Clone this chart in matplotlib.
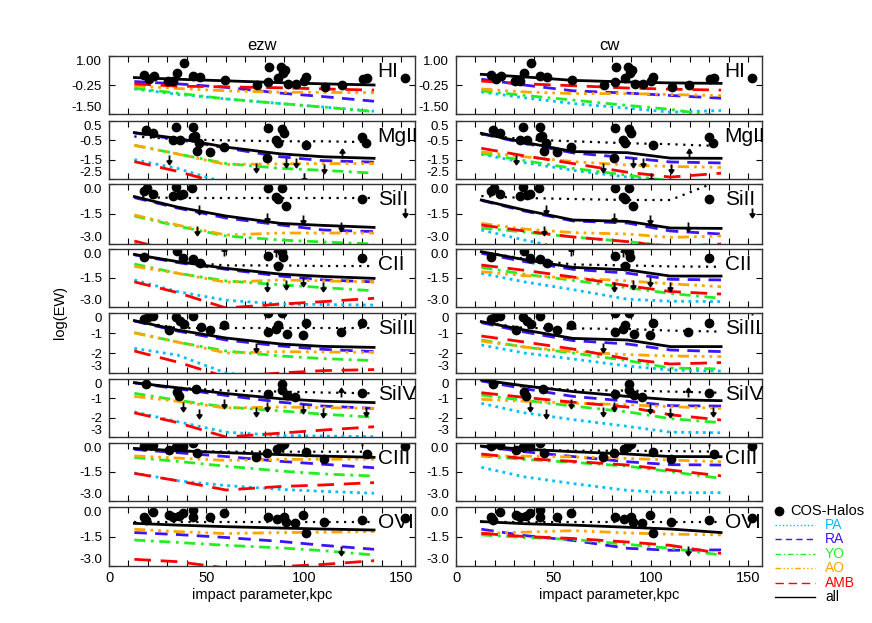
import matplotlib
matplotlib.use("Agg")
import matplotlib.pyplot as plt
from matplotlib.lines import Line2D
from matplotlib.path import Path
from matplotlib.ticker import FixedLocator, MultipleLocator, FormatStrFormatter

plt.rcParams['font.family'] = ['Liberation Sans', 'DejaVu Sans']

# impact parameters where the models are sampled (kpc)
xm = [13, 35, 60, 88, 110, 136]

ions = ['HI', 'MgII', 'SiII', 'CII', 'SiIII', 'SiIV', 'CIII', 'OVI']
models = ['PA', 'RA', 'YO', 'AO', 'AMB', 'all']

# rows: PA, RA, YO, AO, AMB, all, median of data (dotted)
ezw_HI = [[-0.42, -0.65, -0.85, -1.05, -1.2, -1.38],
          [-0.1, -0.2, -0.35, -0.6, -0.75, -0.95],
          [-0.39, -0.6, -0.85, -1.05, -1.2, -1.4],
          [-0.29, -0.4, -0.5, -0.56, -0.57, -0.58],
          [-0.2, -0.3, -0.33, -0.37, -0.42, -0.47],
          [0.07, 0.0, -0.07, -0.15, -0.2, -0.25],
          None]
cw_HI = [[-0.55, -0.8, -1.05, -1.25, -1.42, -1.35],
         [0.0, -0.25, -0.5, -0.6, -0.7, -0.82],
         [-0.5, -0.7, -0.9, -1.13, -1.3, -1.6],
         [-0.42, -0.55, -0.62, -0.62, -0.66, -0.71],
         [-0.08, -0.2, -0.28, -0.38, -0.43, -0.47],
         [0.21, 0.1, -0.05, -0.12, -0.16, -0.18],
         None]
ezw_MgII = [[-1.5, -1.95, -2.7, -3.2, -3.4, -3.6],
            [-0.12, -0.45, -0.9, -1.35, -1.55, -1.63],
            [-0.76, -1.2, -1.7, -1.95, -2.05, -2.2],
            [-0.75, -1.2, -1.75, -1.72, -1.7, -1.7],
            [-1.6, -2.1, -2.8, -3.2, -3.4, -3.6],
            [-0.1, -0.4, -0.85, -1.2, -1.35, -1.43],
            [-0.3, -0.45, -0.5, -0.55, -0.55, -0.6]]
cw_MgII = [[-1.22, -1.65, -2.05, -2.4, -2.65, -2.9],
           [-0.16, -0.65, -1.15, -1.4, -1.62, -1.67],
           [-1.17, -1.55, -1.95, -2.3, -2.6, -2.8],
           [-1.1, -1.35, -1.6, -1.78, -1.85, -1.9],
           [-0.91, -1.3, -1.7, -2.15, -2.4, -2.2],
           [-0.14, -0.6, -1.08, -1.14, -1.42, -1.43],
           [-0.2, -0.45, -0.55, -0.65, -0.7, -0.8]]
ezw_SiII = [[-3.0, -3.5, -4.0, -4.0, -4.0, -4.0],
            [-0.68, -1.2, -1.7, -2.05, -2.3, -2.38],
            [-1.6, -2.1, -2.6, -2.8, -2.9, -3.0],
            [-1.55, -2.05, -2.55, -2.45, -2.45, -2.45],
            [-2.85, -3.4, -4.0, -4.0, -4.0, -4.0],
            [-0.63, -1.15, -1.6, -1.97, -2.07, -2.17],
            [-0.65, -0.7, -0.7, -0.7, -0.7, -0.7]]
cw_SiII = [[-2.3, -2.8, -3.3, -3.8, -4.0, -4.0],
           [-0.82, -1.35, -1.85, -1.95, -2.35, -2.5],
           [-2.2, -2.4, -2.65, -2.88, -3.1, -3.2],
           [-1.97, -2.25, -2.43, -2.5, -2.67, -2.6],
           [-2.05, -2.35, -2.65, -2.88, -3.15, -3.0],
           [-0.8, -1.3, -1.8, -1.87, -2.2, -2.22],
           [-0.6, -0.7, -0.75, -0.8, -0.8, 0.2]]
ezw_CII = [[-1.6, -2.2, -2.65, -2.85, -2.87, -2.9],
           [-0.3, -0.7, -1.05, -1.4, -1.6, -1.7],
           [-0.78, -1.25, -1.65, -1.85, -2.0, -2.16],
           [-0.9, -1.25, -1.72, -1.6, -1.65, -1.7],
           [-1.7, -2.25, -3.05, -2.85, -2.72, -2.55],
           [-0.28, -0.65, -1.0, -1.3, -1.42, -1.52],
           [-0.3, -0.65, -0.85, -0.85, -0.88, -0.88]]
cw_CII = [[-1.26, -1.7, -2.1, -2.6, -2.7, -2.72],
          [-0.22, -0.65, -1.05, -1.25, -1.57, -1.6],
          [-0.95, -1.3, -1.62, -2.0, -2.3, -2.55],
          [-1.17, -1.38, -1.5, -1.65, -1.8, -1.95],
          [-0.83, -1.1, -1.45, -1.9, -2.2, -2.33],
          [-0.14, -0.55, -0.95, -1.08, -1.4, -1.4],
          [-0.15, -0.5, -0.8, -0.85, -0.9, -0.92]]
ezw_SiIII = [[-1.77, -2.1, -3.0, -3.3, -3.5, -3.6],
             [-0.4, -0.9, -1.35, -1.65, -1.82, -1.93],
             [-0.98, -1.45, -1.9, -2.15, -2.28, -2.38],
             [-1.0, -1.45, -2.0, -1.93, -1.95, -1.97],
             [-1.9, -2.45, -3.2, -3.0, -2.88, -2.83],
             [-0.38, -0.85, -1.25, -1.55, -1.67, -1.72],
             [-0.4, -0.75, -0.75, -0.75, -0.75, -0.75]]
cw_SiIII = [[-1.6, -2.0, -2.3, -2.65, -2.85, -2.9],
            [-0.48, -0.95, -1.38, -1.55, -1.85, -1.93],
            [-1.35, -1.7, -2.0, -2.38, -2.75, -2.8],
            [-1.4, -1.7, -1.93, -2.08, -2.15, -2.18],
            [-1.15, -1.45, -1.8, -2.3, -2.55, -2.48],
            [-0.43, -0.85, -1.27, -1.35, -1.68, -1.68],
            [-0.45, -0.75, -0.77, -0.8, -0.88, -0.93]]
ezw_SiIV = [[-1.7, -2.2, -2.75, -2.92, -2.95, -2.98],
            [-0.2, -0.5, -0.85, -1.2, -1.4, -1.52],
            [-0.74, -1.1, -1.45, -1.65, -1.82, -1.98],
            [-0.9, -1.15, -1.5, -1.45, -1.48, -1.52],
            [-1.75, -2.25, -3.0, -2.8, -2.64, -2.47],
            [-0.19, -0.45, -0.75, -1.02, -1.15, -1.22],
            [-0.2, -0.45, -0.6, -0.65, -0.7, -0.74]]
cw_SiIV = [[-1.26, -1.75, -2.1, -2.45, -2.75, -2.78],
           [-0.1, -0.5, -0.9, -1.15, -1.38, -1.4],
           [-0.83, -1.1, -1.4, -1.7, -2.05, -2.26],
           [-1.05, -1.15, -1.25, -1.33, -1.43, -1.52],
           [-0.71, -0.95, -1.2, -1.45, -1.85, -2.12],
           [-0.05, -0.35, -0.65, -0.9, -1.07, -1.12],
           [-0.1, -0.4, -0.57, -0.6, -0.65, -0.71]]
ezw_CIII = [[-1.55, -1.95, -2.2, -2.4, -2.5, -2.6],
            [-0.33, -0.5, -0.7, -0.95, -1.1, -1.28],
            [-0.75, -0.95, -1.2, -1.45, -1.6, -1.71],
            [-0.67, -0.78, -0.9, -0.85, -0.84, -0.84],
            [-1.57, -1.95, -2.43, -2.25, -2.17, -2.05],
            [-0.28, -0.4, -0.5, -0.6, -0.68, -0.74],
            [-0.3, -0.4, -0.45, -0.45, -0.45, -0.45]]
cw_CIII = [[-1.26, -1.75, -2.1, -2.45, -2.57, -2.57],
           [-0.18, -0.45, -0.7, -0.97, -1.12, -1.14],
           [-0.67, -0.85, -1.0, -1.2, -1.48, -1.83],
           [-0.67, -0.68, -0.72, -0.8, -0.88, -0.97],
           [-0.57, -0.8, -0.95, -1.14, -1.4, -1.7],
           [-0.16, -0.32, -0.45, -0.57, -0.7, -0.71],
           [-0.16, -0.32, -0.4, -0.4, -0.42, -0.45]]
ezw_OVI = [[-3.4, -3.5, -3.6, -3.7, -3.8, -3.9],
           [-1.3, -1.4, -1.55, -1.75, -1.95, -2.15],
           [-1.68, -1.8, -1.95, -2.08, -2.22, -2.44],
           [-1.13, -1.25, -1.35, -1.3, -1.28, -1.25],
           [-2.66, -2.78, -3.1, -3.03, -2.92, -2.73],
           [-0.83, -0.92, -1.0, -1.07, -1.12, -1.17],
           [-0.75, -0.75, -0.75, -0.75, -0.75, -0.75]]
cw_OVI = [[-3.4, -3.5, -3.6, -3.7, -3.8, -3.9],
          [-1.13, -1.45, -1.7, -2.1, -2.2, -2.18],
          [-1.42, -1.55, -1.65, -1.9, -2.1, -2.44],
          [-1.34, -1.28, -1.2, -1.32, -1.38, -1.42],
          [-1.34, -1.5, -1.6, -1.78, -1.95, -2.36],
          [-0.74, -0.85, -0.92, -1.03, -1.12, -1.3],
          [-0.75, -0.75, -0.75, -0.75, -0.75, -0.75]]

# COS-Halos detections (x kpc, log EW) and limits
obs_HI = [(18, 0.2), (20.5, 0.03), (23, 0.14), (30.5, -0.06), (33, -0.06), (35, 0.25),
          (38.5, 0.68), (43, 0.13), (46.5, 0.09), (59.5, -0.04), (76, -0.24), (81.5, -0.12),
          (82, 0.51), (86.5, 0.07), (88.5, 0.54), (89.5, 0.28), (90.5, 0.4), (92, -0.2),
          (96, -0.2), (100, -0.08), (101.2, 0.11), (111, -0.33), (119.5, -0.27),
          (130.5, 0.0), (132.5, 0.05), (152, 0.05)]
obs_MgII = [(19, 0.03), (22.5, -0.1), (34.5, 0.17), (33, -0.48), (36.6, -0.48), (43, 0.17),
            (43, -0.34), (44, -0.3), (45, -1.05), (46, -0.65), (51.7, -1.08), (59, -0.86),
            (81.6, 0.12), (81.3, -1.43), (85.6, -0.48), (86.8, -0.62), (89, 0.07), (90, -0.12),
            (101, -0.76), (130, -0.34), (132, -0.62)]
obs_SiII = [(18, -0.33), (19.7, -0.2), (22.5, -0.5), (33, -0.6), (34.5, -0.17), (36.5, -0.55),
            (38, -0.5), (42.6, -0.22), (81.6, -0.22), (85.6, -0.63), (86.8, -0.73), (89, -0.22),
            (91, -1.1), (130, -0.75)]
obs_CII = [(18, -0.43), (35, -0.09), (38, -0.48), (43, -0.53), (46.5, -0.74), (81.6, -0.36),
           (86.8, -0.88), (89, -0.14), (89.5, -0.4), (130, -0.48)]
obs_SiIII = [(18, -0.32), (19.8, -0.18), (22.5, -0.15), (31, -0.85), (34.5, -0.22),
             (36.6, -0.38), (38.6, -0.53), (43, -0.15), (47, -0.7), (51.7, -0.85), (59, -0.6),
             (81.6, -0.93), (81.6, 0.0), (85.6, -0.8), (86.8, -0.6), (89, 0.0), (91.2, -1.05),
             (99.3, -1.1), (101, -0.48), (119, -0.93), (130, -0.48)]
obs_SiIV = [(19, -0.26), (35, -0.66), (36, -0.9), (44.5, -0.53), (81.6, -0.8), (89, -0.26),
            (89, -0.57), (91.2, -0.83), (95.4, -0.95), (130, -0.71)]
obs_CIII = [(18, -0.16), (22.5, -0.1), (31, -0.38), (34.5, -0.22), (38, -0.16), (43, -0.02),
            (45, -0.5), (75.3, -0.71), (81.3, -0.5), (86, -0.33), (88, -0.16), (90, -0.05),
            (101, -0.45), (110.5, -0.83), (132.3, -0.55), (152, -0.16)]
obs_OVI = [(18, -0.49), (19, -0.66), (22.5, -0.24), (31, -0.41), (33, -0.53), (35.7, -0.45),
           (38, -0.32), (43, -0.15), (43, -0.49), (51.7, -0.49), (59, -0.29), (81.6, -0.53),
           (86, -0.63), (90, -0.49), (91, -0.75), (95.4, -0.83), (99.3, -0.41), (101, -1.31),
           (110.5, -0.75), (130, -0.66), (152, -0.58)]

upper_MgII = [(31, -1.25), (75.6, -1.65), (91, -1.4), (96, -1.4), (100, -2.2), (110.5, -1.7)]
lower_MgII = [(119.5, -1.4)]
upper_SiII = [(46, -1.05), (45, -2.1), (81.3, -1.47), (99.3, -1.55), (119, -1.9), (152, -1.2)]
lower_SiII = [(89.3, -0.1)]
upper_CII = [(81.3, -1.69), (91, -1.6), (99.3, -1.43), (110, -1.69)]
lower_CII = [(59, -0.36), (85.6, -0.4)]
upper_SiIII = [(75.6, -1.52)]
lower_SiIII = [(152, -0.1)]
upper_SiIV = [(38, -1.17), (46, -1.55), (59, -1.05), (75.6, -1.47), (81.3, -1.17),
              (99.3, -1.3), (110, -1.5), (132, -1.47)]
lower_SiIV = [(119, -0.95)]
upper_CIII = []
lower_CIII = [(130, -0.16)]
upper_OVI = [(119, -2.0)]
lower_OVI = []

ezw = [ezw_HI, ezw_MgII, ezw_SiII, ezw_CII, ezw_SiIII, ezw_SiIV, ezw_CIII, ezw_OVI]
cw = [cw_HI, cw_MgII, cw_SiII, cw_CII, cw_SiIII, cw_SiIV, cw_CIII, cw_OVI]
obs = [obs_HI, obs_MgII, obs_SiII, obs_CII, obs_SiIII, obs_SiIV, obs_CIII, obs_OVI]
uppers = [[], upper_MgII, upper_SiII, upper_CII, upper_SiIII, upper_SiIV, upper_CIII, upper_OVI]
lowers = [[], lower_MgII, lower_SiII, lower_CII, lower_SiIII, lower_SiIV, lower_CIII, lower_OVI]

ylims = [(-1.5, 1.0), (-2.5, 0.5), (-3, 0), (-3, 0), (-3, 0), (-3, 0), (-3, 0), (-3, 0)]
yticks = [[1.0, -0.25, -1.5], [0.5, -0.5, -1.5, -2.5], [0.0, -1.5, -3.0], [0.0, -1.5, -3.0],
          [0, -1, -2, -3], [0, -1, -2, -3], [0.0, -1.5, -3.0], [0.0, -1.5, -3.0]]
yfmt = ['%.2f', '%.1f', '%.1f', '%.1f', '%d', '%d', '%.1f', '%.1f']

colors = ['#00bfff', '#3c14ff', '#22ee22', '#ffa500', '#ff0000', 'black']
styles = [(0, (1, 1.6)), (0, (4.5, 3)), (0, (4, 2, 1, 2)), (0, (4, 1.8, 1, 1.8, 1, 1.8, 1, 1.8)),
          (0, (6, 3.5)), '-']

MO, LI, CL = Path.MOVETO, Path.LINETO, Path.CLOSEPOLY
down_arrow = Path([(0, 0), (0, -0.7), (-0.25, -0.62), (0.25, -0.62), (0, -1), (-0.25, -0.62)],
                  [MO, LI, MO, LI, LI, CL])
up_arrow = Path([(0, 0), (0, 0.7), (-0.25, 0.62), (0.25, 0.62), (0, 1), (-0.25, 0.62)],
                [MO, LI, MO, LI, LI, CL])

W, H = 872, 623
tops = [56, 121, 184, 249, 313, 379, 443, 507]
bots = [114, 179, 244, 307, 373, 437, 501, 566]
lefts = [109, 456]
width = 306

fig = plt.figure(figsize=(W / 100, H / 100), dpi=100)

for c, (col, title) in enumerate([(ezw, 'ezw'), (cw, 'cw')]):
    for r in range(8):
        ax = fig.add_axes([lefts[c] / W, 1 - bots[r] / H, width / W, (bots[r] - tops[r]) / H])
        rows = col[r]
        if rows[6] is not None:
            ax.plot(xm, rows[6], color='black', ls=(0, (1, 2.5)), lw=1.6)
        for k in range(6):
            ax.plot(xm, rows[k], color=colors[k], ls=styles[k], lw=2.0,
                    dash_capstyle='butt')
        ox = [p[0] for p in obs[r]]
        oy = [p[1] for p in obs[r]]
        ax.plot(ox, oy, 'o', color='black', ms=6)
        if uppers[r]:
            ax.plot([p[0] for p in uppers[r]], [p[1] for p in uppers[r]], ls='none',
                    marker=down_arrow, ms=13, color='black', mew=1.3)
        if lowers[r]:
            ax.plot([p[0] for p in lowers[r]], [p[1] for p in lowers[r]], ls='none',
                    marker=up_arrow, ms=13, color='black', mew=1.3)

        ax.set_xlim(0, 157)
        ax.set_ylim(*ylims[r])
        ax.xaxis.set_major_locator(FixedLocator([0, 50, 100, 150]))
        ax.xaxis.set_minor_locator(MultipleLocator(10))
        ax.yaxis.set_major_locator(FixedLocator(yticks[r]))
        ax.yaxis.set_major_formatter(FormatStrFormatter(yfmt[r]))
        ax.tick_params(which='both', direction='in', top=True, right=True, length=4,
                       width=0.8, labelsize=10.5)
        ax.tick_params(axis='y', pad=5, labelsize=9.5)
        # keep the edge labels inside the panel height, as in the original
        yt = ax.yaxis.get_major_ticks(len(yticks[r]))
        yt[0].label1.set_verticalalignment('top')
        yt[-1].label1.set_verticalalignment('bottom')
        if r < 7:
            ax.tick_params(axis='x', labelbottom=False)
        else:
            ax.set_xlabel('impact parameter,kpc', fontsize=10.5, labelpad=2)
        for s in ax.spines.values():
            s.set_linewidth(1.0)
            s.set_color('#333333')
        ax.text(0.878, 0.74, ions[r], transform=ax.transAxes, fontsize=15,
                ha='left', va='center')
        if r == 0:
            ax.set_title(title, fontsize=12, pad=4)

fig.text(60 / W, 1 - 312 / H, 'log(EW)', rotation=90, fontsize=10.5, ha='center', va='center')

# legend
y0 = 1 - 511 / H
fig.add_artist(Line2D([779 / W], [y0], marker='o', ms=6, color='black',
                      transform=fig.transFigure))
fig.text(790 / W, y0, 'COS-Halos', fontsize=10.5, va='center')
for i, name in enumerate(models):
    yy = 1 - (525 + i * 14.4) / H
    fig.add_artist(Line2D([775 / W, 815 / W], [yy, yy], color=colors[i], ls=styles[i], lw=1.0,
                          transform=fig.transFigure))
    fig.text(825 / W, yy, name, color=colors[i], fontsize=10, va='center')

fig.savefig('out.png', dpi=100)
